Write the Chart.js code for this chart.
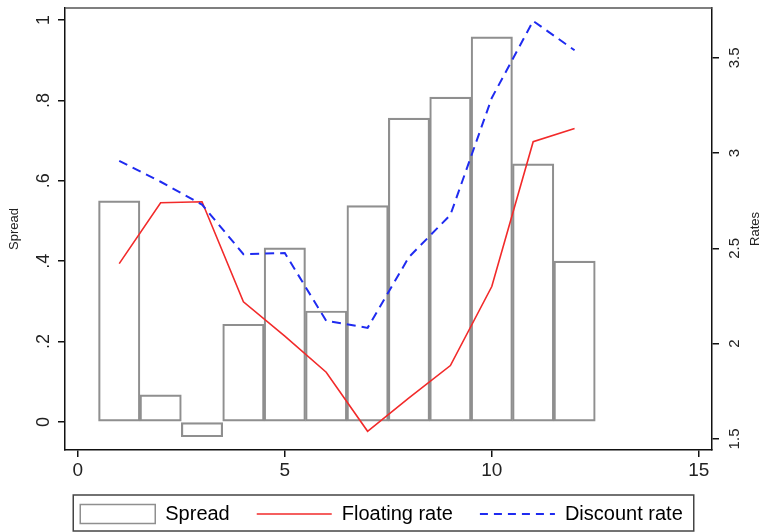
<!DOCTYPE html>
<html>
<head>
<meta charset="utf-8">
<script src="https://cdn.jsdelivr.net/npm/chart.js@4.4.1/dist/chart.umd.min.js"></script>
<style>
  html, body { margin: 0; padding: 0; background: #fff; }
  canvas { display: block; }
</style>
</head>
<body>
<canvas id="myChart" width="763" height="532"></canvas>
<script>
// donnees
const periods = [1, 2, 3, 4, 5, 6, 7, 8, 9, 10, 11, 12];
const spread = [0.55, 0.067, -0.037, 0.243, 0.433, 0.276, 0.538, 0.756, 0.808, 0.958, 0.642, 0.40];
const floatingRate = [2.42, 2.74, 2.745, 2.22, 2.04, 1.85, 1.54, 1.715, 1.885, 2.30, 3.06, 3.13];
const discountRate = [2.96, 2.85, 2.73, 2.47, 2.476, 2.12, 2.083, 2.455, 2.676, 3.29, 3.694, 3.54];

const xTicks = [0, 5, 10, 15];
const spreadTicks = [0, 0.2, 0.4, 0.6, 0.8, 1];
const spreadTickLabels = ['0', '.2', '.4', '.6', '.8', '1'];
const rateTicks = [1.5, 2, 2.5, 3, 3.5];
const rateTickLabels = ['1.5', '2', '2.5', '3', '3.5'];

Chart.defaults.font.family = '"Liberation Sans", Arial, sans-serif';
Chart.defaults.color = '#222';

const toPoints = (values) => values.map((v, i) => ({ x: periods[i], y: v }));

/**
 * fixe la taille d'un axe et retire la marge ajoutee pour les etiquettes
 */
const fixSize = (prop, size) => (s) => {
    s[prop] = size;
    s.paddingTop = 0;
    s.paddingBottom = 0;
    s.paddingLeft = 0;
    s.paddingRight = 0;
};

/**
 * cadre du haut, titre de l'axe de droite et boite de la legende
 */
const stataFrame = {
    id: 'stataFrame',
    afterDraw(chart) {
        const { ctx, chartArea } = chart;
        ctx.save();
        ctx.strokeStyle = '#555';
        ctx.lineWidth = 1.5;
        ctx.beginPath();
        ctx.moveTo(chartArea.left, chartArea.top);
        ctx.lineTo(chartArea.right, chartArea.top);
        ctx.stroke();

        // titre "Rates" lu de bas en haut
        ctx.fillStyle = '#222';
        ctx.font = '13px "Liberation Sans", Arial, sans-serif';
        ctx.textAlign = 'center';
        ctx.textBaseline = 'middle';
        ctx.translate(755, (chartArea.top + chartArea.bottom) / 2);
        ctx.rotate(-Math.PI / 2);
        ctx.fillText('Rates', 0, 0);
        ctx.restore();

        const boxes = chart.legend.legendHitBoxes;
        if (boxes && boxes.length) {
            const first = boxes[0];
            const last = boxes[boxes.length - 1];
            ctx.save();
            ctx.strokeStyle = '#444';
            ctx.lineWidth = 1.5;
            ctx.strokeRect(first.left - 7, first.top - 9, last.left + last.width - first.left + 18, first.height + 16);
            ctx.restore();
        }
    }
};

const ctx = document.getElementById('myChart');

new Chart(ctx, {
    type: 'bar',
    data: {
        datasets: [{
            type: 'bar',
            label: 'Spread',
            data: toPoints(spread),
            yAxisID: 'y',
            backgroundColor: 'rgba(255,255,255,0)',
            borderColor: '#8f8f8f',
            borderWidth: 1.5,
            borderSkipped: false,
            barPercentage: 1,
            categoryPercentage: 1,
            order: 3
        }, {
            type: 'line',
            label: 'Floating rate',
            data: toPoints(floatingRate),
            yAxisID: 'y1',
            borderColor: '#f22a2a',
            borderWidth: 1.6,
            pointRadius: 0,
            tension: 0,
            fill: false,
            order: 1
        }, {
            type: 'line',
            label: 'Discount rate',
            data: toPoints(discountRate),
            yAxisID: 'y1',
            borderColor: '#1f2bf0',
            borderWidth: 2,
            borderDash: [9, 6],
            pointRadius: 0,
            tension: 0,
            fill: false,
            order: 0
        }]
    },
    options: {
        responsive: false,
        animation: false,
        devicePixelRatio: 1,
        layout: { padding: { top: 8, left: 0, right: 0, bottom: 0 } },
        scales: {
            x: {
                type: 'linear',
                min: -0.31,
                max: 15.32,
                offset: false,
                afterBuildTicks: (s) => { s.ticks = xTicks.map(v => ({ value: v })) },
                afterFit: fixSize('height', 27),
                grid: { display: true, drawOnChartArea: false, drawTicks: true, tickLength: 7, color: '#111', lineWidth: 1.5, offset: false },
                border: { display: true, color: '#111', width: 1.5 },
                ticks: { padding: 2, color: '#222', font: { size: 19 }, maxRotation: 0 }
            },
            y: {
                type: 'linear',
                position: 'left',
                min: -0.07,
                max: 1.03,
                afterBuildTicks: (s) => { s.ticks = spreadTicks.map(v => ({ value: v })) },
                afterFit: fixSize('width', 65),
                grid: { display: true, drawOnChartArea: false, drawTicks: true, tickLength: 7, color: '#111', lineWidth: 1.5 },
                border: { display: true, color: '#111', width: 1.5 },
                ticks: {
                    color: '#222',
                    font: { size: 18 },
                    minRotation: 90,
                    maxRotation: 90,
                    crossAlign: 'center',
                    padding: 6,
                    callback: (v) => spreadTickLabels[spreadTicks.indexOf(v)]
                },
                title: { display: true, text: 'Spread', color: '#222', font: { size: 13 }, padding: { top: 7, bottom: 0 } }
            },
            y1: {
                type: 'linear',
                position: 'right',
                min: 1.442,
                max: 3.762,
                afterBuildTicks: (s) => { s.ticks = rateTicks.map(v => ({ value: v })) },
                afterFit: fixSize('width', 51),
                grid: { display: true, drawOnChartArea: false, drawTicks: true, tickLength: 7, color: '#111', lineWidth: 1.5 },
                border: { display: true, color: '#111', width: 1.5 },
                ticks: {
                    color: '#222',
                    font: { size: 15 },
                    minRotation: 90,
                    maxRotation: 90,
                    crossAlign: 'center',
                    padding: 5,
                    callback: (v) => rateTickLabels[rateTicks.indexOf(v)]
                }
            }
        },
        plugins: {
            legend: {
                display: true,
                position: 'bottom',
                maxHeight: 55,
                labels: {
                    usePointStyle: true,
                    pointStyleWidth: 75,
                    boxHeight: 19,
                    padding: 27,
                    color: '#222',
                    font: { size: 20 },
                    generateLabels: () => [
                        { text: 'Spread', pointStyle: 'rect', fillStyle: '#fff', strokeStyle: '#8f8f8f', lineWidth: 1.5, lineDash: [], hidden: false, datasetIndex: 0 },
                        { text: 'Floating rate', pointStyle: 'line', fillStyle: '#f22a2a', strokeStyle: '#f22a2a', lineWidth: 1.6, lineDash: [], hidden: false, datasetIndex: 1 },
                        { text: 'Discount rate', pointStyle: 'line', fillStyle: '#1f2bf0', strokeStyle: '#1f2bf0', lineWidth: 2, lineDash: [8, 6], hidden: false, datasetIndex: 2 }
                    ]
                }
            },
            tooltip: { enabled: false }
        }
    },
    plugins: [stataFrame]
});
</script>
</body>
</html>
